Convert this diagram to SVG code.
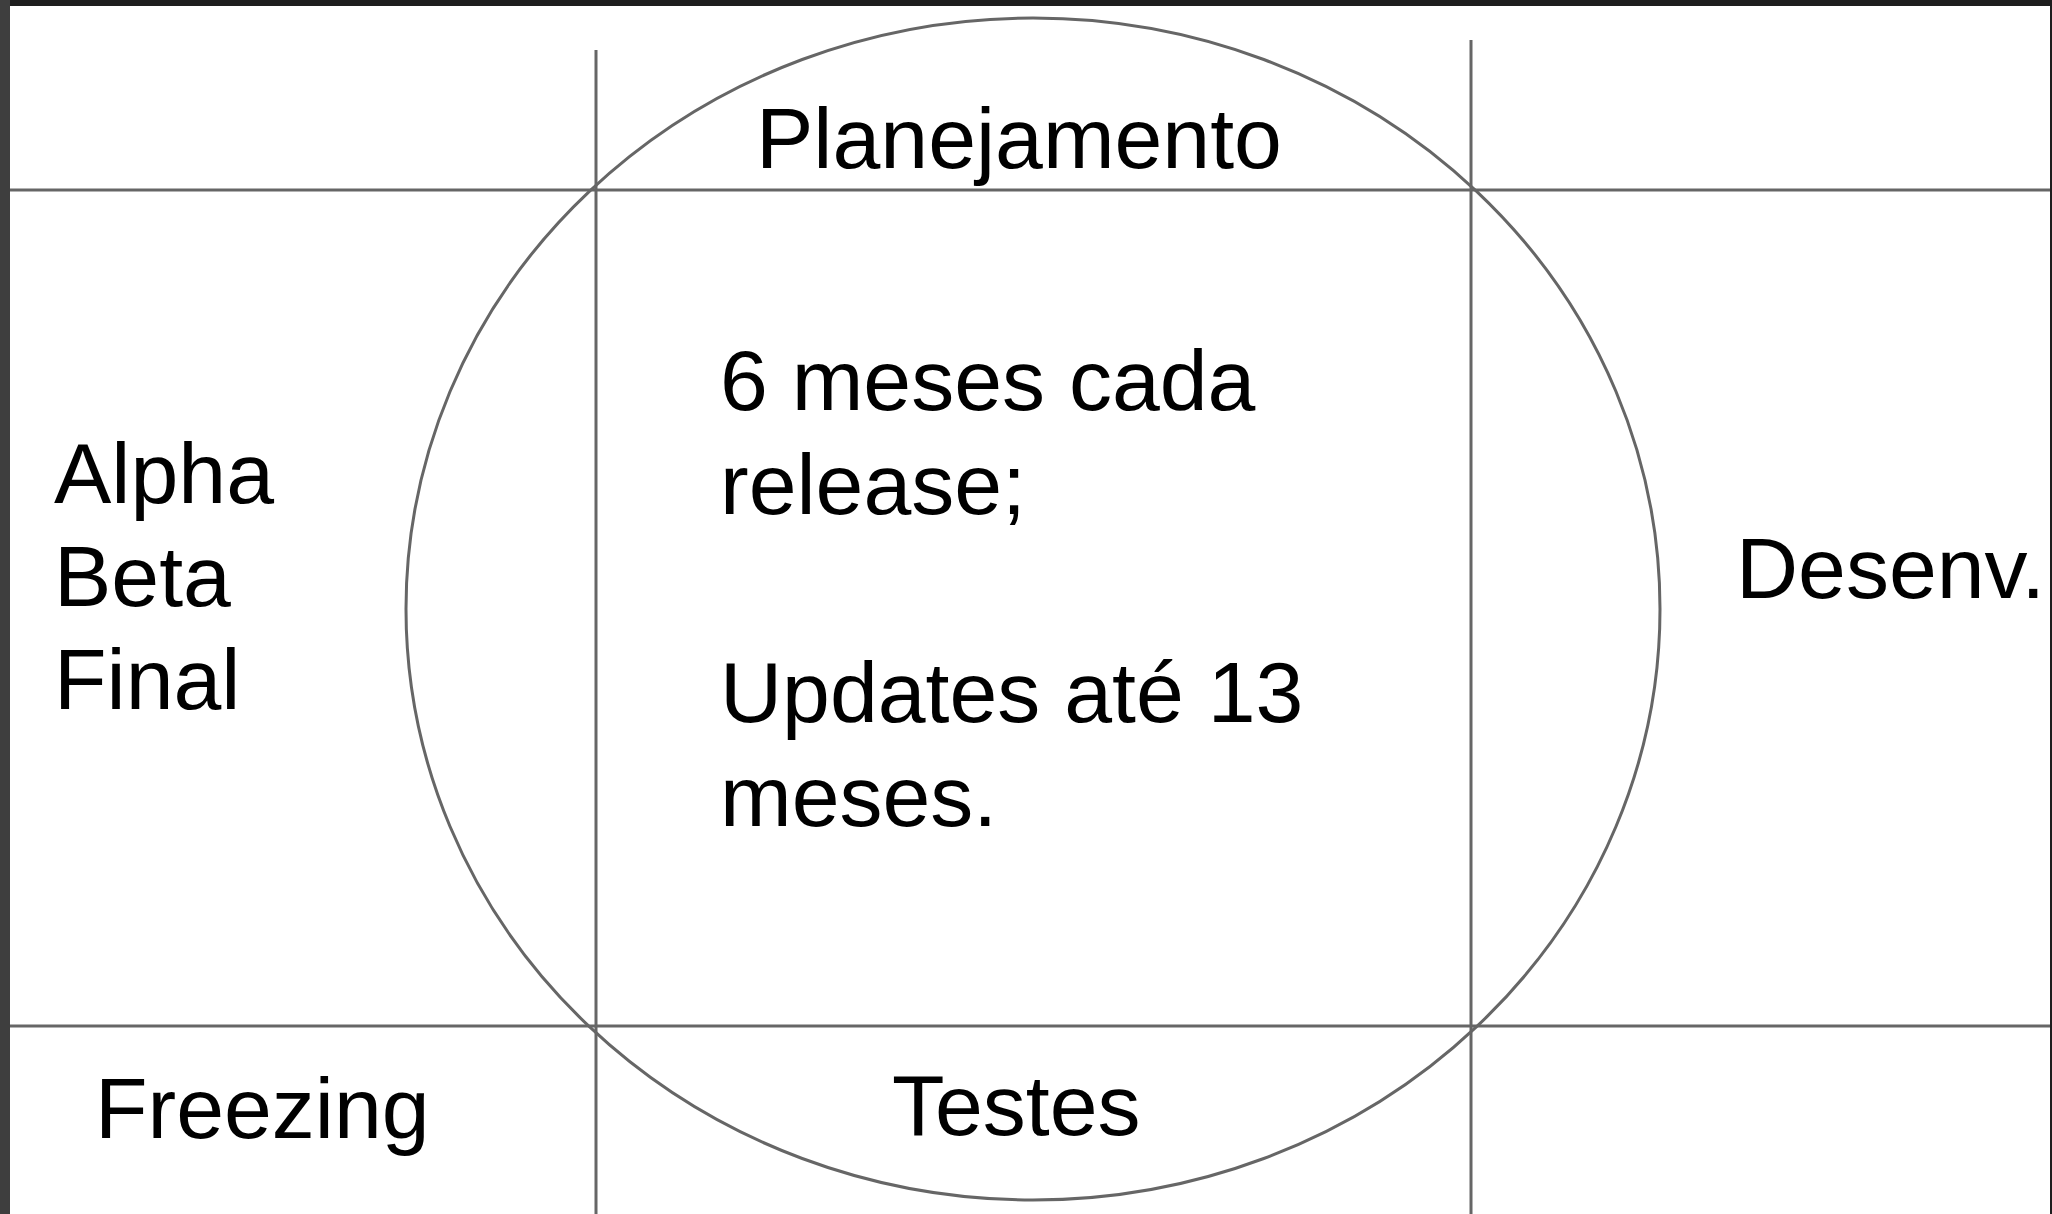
<svg xmlns="http://www.w3.org/2000/svg" width="2052" height="1214" viewBox="0 0 2052 1214">
  <style>
    .ln { stroke: #666666; stroke-width: 3; fill: none; }
    .t { font-family: "Liberation Sans", Arial, sans-serif; font-size: 86px; fill: #000000; }
  </style>
  <rect x="0" y="0" width="2052" height="1214" fill="#1e1e1e"/>
  <rect x="0" y="0" width="10" height="1214" fill="#3e3e3e"/>
  <rect x="10" y="6" width="2040" height="1208" fill="#ffffff"/>
  <g id="connectors">
    <line class="ln" x1="10" y1="190" x2="2050" y2="190"/>
    <line class="ln" x1="10" y1="1026" x2="2050" y2="1026"/>
    <line class="ln" x1="596" y1="50" x2="596" y2="1214"/>
    <line class="ln" x1="1471" y1="40" x2="1471" y2="1214"/>
    <ellipse class="ln" cx="1033" cy="609" rx="627" ry="591"/>
  </g>
  <g id="planejamento"><text class="t" x="756" y="168">Planejamento</text></g>
  <g id="centro">
    <text class="t" x="720" y="409.5">6 meses cada</text>
    <text class="t" x="720" y="513.5">release;</text>
    <text class="t" x="720" y="721.5">Updates até 13</text>
    <text class="t" x="720" y="825.5">meses.</text>
  </g>
  <g id="fases">
    <text class="t" x="54" y="503">Alpha</text>
    <text class="t" x="54" y="606">Beta</text>
    <text class="t" x="54" y="709">Final</text>
  </g>
  <g id="desenv"><text class="t" x="1736" y="598">Desenv.</text></g>
  <g id="freezing"><text class="t" x="95" y="1138">Freezing</text></g>
  <g id="testes"><text class="t" x="892" y="1135">Testes</text></g>
</svg>
